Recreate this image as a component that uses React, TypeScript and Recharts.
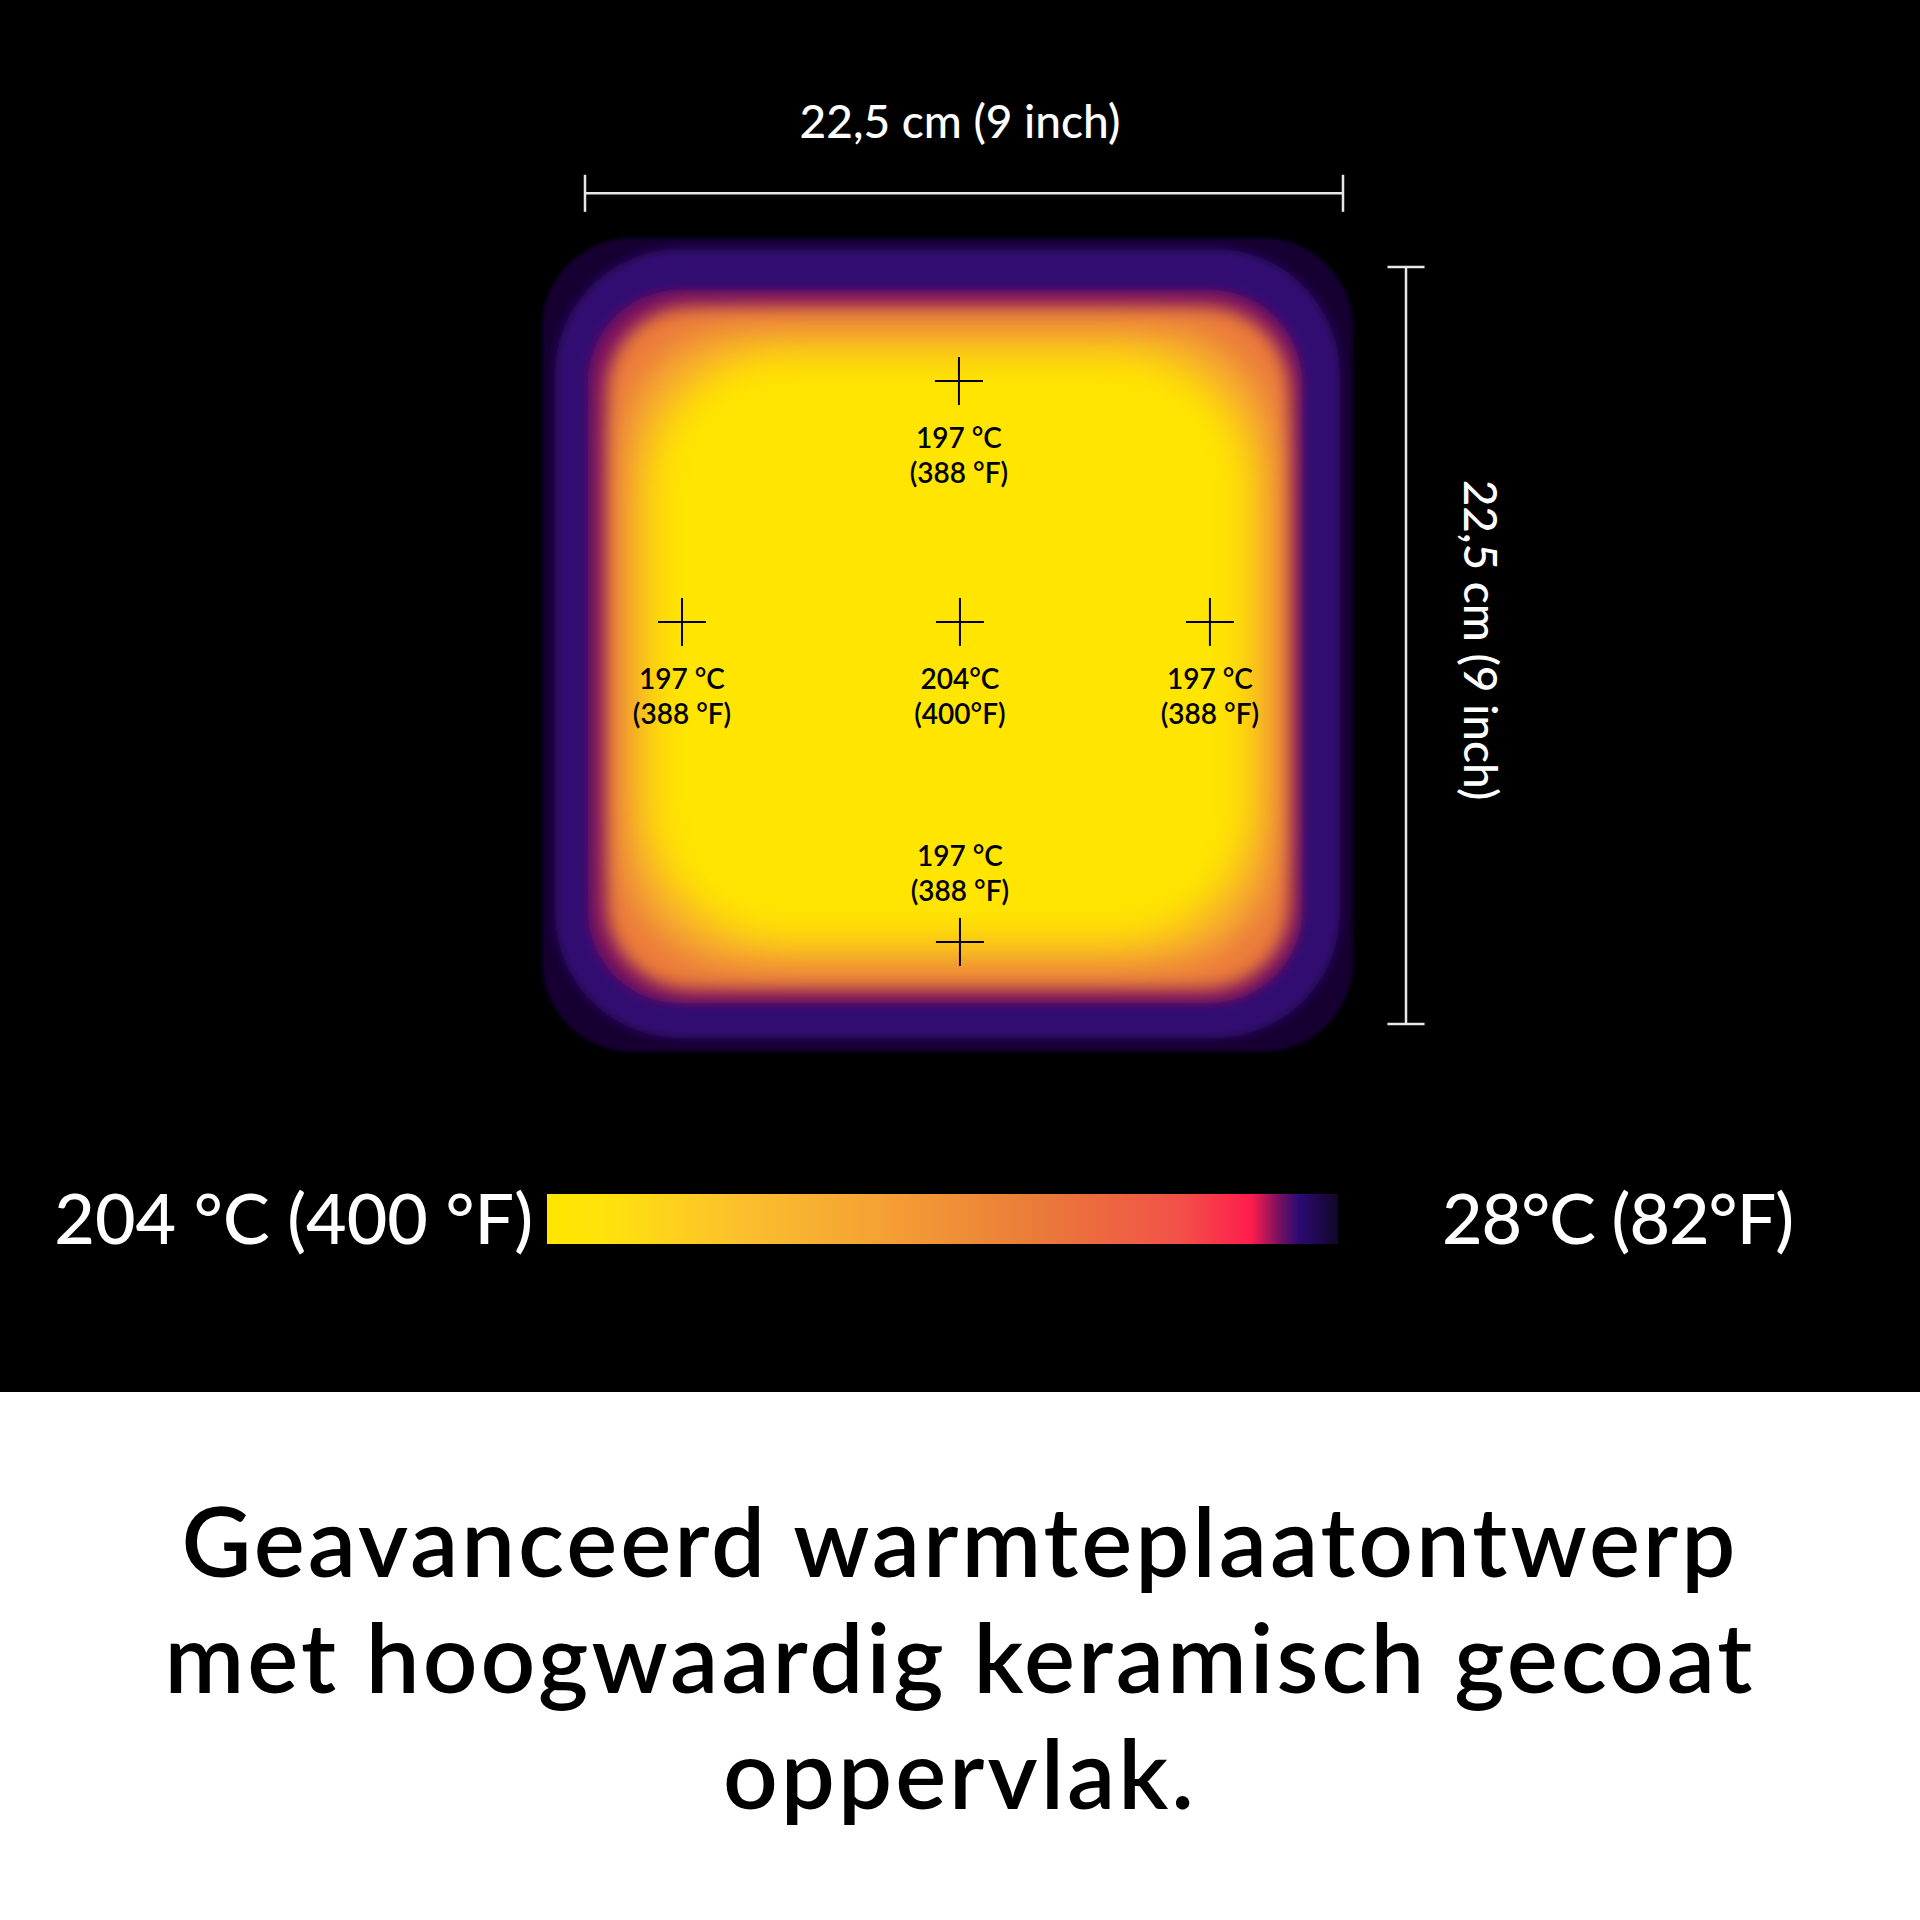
import React from "react";
import {
  ReferenceArea,
  ReferenceLine,
  Scatter,
  ScatterChart,
  XAxis,
  YAxis,
} from "recharts";

document.body.style.margin = "0";

// plate size, both sides
const plateSizeCm = 22.5;
const plateSizeText = "22,5 cm (9 inch)";

// probe points, cm from the bottom-left corner of the plate
const probeX = [11.1, 2.88, 11.13, 18.55, 11.13];
const probeY = [19.11, 11.95, 11.95, 11.95, 2.44];
const probeC = [197, 197, 204, 197, 197];
const probeF = [388, 388, 400, 388, 388];
const probeTextC = ["197 °C", "197 °C", "204°C", "197 °C", "197 °C"];
const probeTextF = ["(388 °F)", "(388 °F)", "(400°F)", "(388 °F)", "(388 °F)"];

// isotherm outlines (°C, bounds in cm)
const isoTemps = [29, 37, 41, 93, 134, 200];
const isoLeft = [-1.28, -0.89, 0.09, 0.62, 1.19, 1.78];
const isoRight = [22.8, 22.41, 21.28, 20.93, 20.39, 19.89];
const isoBottom = [-0.83, -0.42, 0.62, 1.01, 1.75, 2.35];
const isoTop = [23.37, 23.04, 21.82, 21.34, 20.63, 20.04];

// legend colour scale, hot -> cold
const scaleHotC = 204;
const scaleHotF = 400;
const scaleColdC = 28;
const scaleColdF = 82;
const scaleStops = [0, 0.07, 0.25, 0.42, 0.62, 0.8, 0.89, 0.925, 0.95, 1];
const scaleColors = [
  "#FFE600",
  "#FFE30C",
  "#FBBF2E",
  "#F5A134",
  "#E97B39",
  "#F25148",
  "#FF1C4B",
  "#7A1060",
  "#2C0A72",
  "#120628",
];

const caption = [
  "Geavanceerd warmteplaatontwerp",
  "met hoogwaardig keramisch gecoat",
  "oppervlak.",
];

const probes = probeX.map((x, i) => ({
  x,
  y: probeY[i],
  c: probeC[i],
  f: probeF[i],
  textC: probeTextC[i],
  textF: probeTextF[i],
}));

const FONT = "Lato, 'Open Sans', sans-serif";

const hex = (c: string) => [1, 3, 5].map((i) => parseInt(c.slice(i, i + 2), 16));

function tempColor(t: number) {
  const f = Math.min(1, Math.max(0, (scaleHotC - t) / (scaleHotC - scaleColdC)));
  let i = 0;
  while (i < scaleStops.length - 2 && f > scaleStops[i + 1]) i++;
  const k = (f - scaleStops[i]) / (scaleStops[i + 1] - scaleStops[i]);
  const a = hex(scaleColors[i]);
  const b = hex(scaleColors[i + 1]);
  const m = a.map((v, j) => Math.round(v + (b[j] - v) * k));
  return `rgb(${m[0]},${m[1]},${m[2]})`;
}

// softening per layer, outer -> inner
const layerBlur = [2, 5, 5, 9, 16, 20];
const layerRadius = [90, 125, 92, 86, 110, 140];

const layerShape = (i: number) => (props: any) => {
  const { x, y, width, height } = props;
  const id = `iso-blur-${i}`;
  return (
    <g>
      <defs>
        <filter id={id} x="-20%" y="-20%" width="140%" height="140%">
          <feGaussianBlur stdDeviation={layerBlur[i]} />
        </filter>
      </defs>
      <rect
        x={x}
        y={y}
        width={width}
        height={height}
        rx={layerRadius[i]}
        ry={layerRadius[i]}
        fill={tempColor(isoTemps[i])}
        filter={`url(#${id})`}
      />
    </g>
  );
};

const Probe = (props: any) => {
  const { cx, cy, payload } = props;
  const above = payload.y < plateSizeCm / 4;
  const y1 = above ? cy - 76 : cy + 67;
  const y2 = above ? cy - 41 : cy + 102;
  return (
    <g>
      <line x1={cx - 24} x2={cx + 24} y1={cy} y2={cy} stroke="#000" strokeWidth={2} />
      <line x1={cx} x2={cx} y1={cy - 24} y2={cy + 24} stroke="#000" strokeWidth={2} />
      <text x={cx} y={y1} textAnchor="middle" fontFamily={FONT} fontSize={28} fontWeight={600} fill="#000">
        {payload.textC}
      </text>
      <text x={cx} y={y2} textAnchor="middle" fontFamily={FONT} fontSize={28} fontWeight={600} fill="#000">
        {payload.textF}
      </text>
    </g>
  );
};

const dimTop = 24.69;
const dimRight = 24.37;
const tick = 0.55;
const dimStroke = { stroke: "#e8e8e8", strokeWidth: 2.5 };

export default function App() {
  return (
    <div
      style={{
        position: "relative",
        width: 1920,
        height: 1920,
        background: "linear-gradient(#000 0, #000 1392px, #fff 1392px, #fff 100%)",
        overflow: "hidden",
      }}
    >
      <div style={{ position: "absolute", left: 0, top: 0 }}>
        <ScatterChart
          width={1920}
          height={1920}
          margin={{ top: 267, right: 577, bottom: 896, left: 585 }}
        >
          <XAxis type="number" dataKey="x" domain={[0, plateSizeCm]} allowDataOverflow hide />
          <YAxis type="number" dataKey="y" domain={[0, plateSizeCm]} allowDataOverflow hide />
          {isoTemps.map((t, i) => (
            <ReferenceArea
              key={t}
              x1={isoLeft[i]}
              x2={isoRight[i]}
              y1={isoBottom[i]}
              y2={isoTop[i]}
              ifOverflow="visible"
              shape={layerShape(i)}
            />
          ))}
          <ReferenceLine
            segment={[{ x: 0, y: dimTop }, { x: plateSizeCm, y: dimTop }]}
            ifOverflow="visible"
            {...dimStroke}
          />
          <ReferenceLine
            segment={[{ x: 0, y: dimTop - tick }, { x: 0, y: dimTop + tick }]}
            ifOverflow="visible"
            {...dimStroke}
          />
          <ReferenceLine
            segment={[{ x: plateSizeCm, y: dimTop - tick }, { x: plateSizeCm, y: dimTop + tick }]}
            ifOverflow="visible"
            {...dimStroke}
          />
          <ReferenceLine
            segment={[{ x: dimRight, y: 0 }, { x: dimRight, y: plateSizeCm }]}
            ifOverflow="visible"
            {...dimStroke}
          />
          <ReferenceLine
            segment={[{ x: dimRight - tick, y: 0 }, { x: dimRight + tick, y: 0 }]}
            ifOverflow="visible"
            {...dimStroke}
          />
          <ReferenceLine
            segment={[{ x: dimRight - tick, y: plateSizeCm }, { x: dimRight + tick, y: plateSizeCm }]}
            ifOverflow="visible"
            {...dimStroke}
          />
          <Scatter data={probes} shape={Probe} isAnimationActive={false} />
        </ScatterChart>
      </div>
      <svg
        width={1920}
        height={1920}
        style={{ position: "absolute", left: 0, top: 0, pointerEvents: "none" }}
        fontFamily={FONT}
      >
        <defs>
          <linearGradient id="scale" x1="0" x2="1" y1="0" y2="0">
            {scaleStops.map((s, i) => (
              <stop key={s} offset={s} stopColor={scaleColors[i]} />
            ))}
          </linearGradient>
        </defs>
        <text x={960} y={138} textAnchor="middle" fontSize={46} fontWeight={500} fill="#fff">
          {plateSizeText}
        </text>
        <text
          transform="translate(1464,640) rotate(90)"
          textAnchor="middle"
          fontSize={46}
          fontWeight={500}
          fill="#fff"
        >
          {plateSizeText}
        </text>
        <rect x={547} y={1194} width={791} height={50} fill="url(#scale)" />
        <text x={533} y={1244} textAnchor="end" fontSize={70} fontWeight={500} fill="#fff">
          {`${scaleHotC} °C (${scaleHotF} °F)`}
        </text>
        <text
          x={1442}
          y={1244}
          textAnchor="start"
          fontSize={70}
          fontWeight={500}
          letterSpacing={-1}
          fill="#fff"
        >
          {`${scaleColdC}°C (${scaleColdF}°F)`}
        </text>
        {caption.map((line, i) => (
          <text
            key={line}
            x={960}
            y={1577 + i * 116}
            textAnchor="middle"
            fontSize={96}
            fontWeight={600}
            letterSpacing={3}
            fill="#000"
          >
            {line}
          </text>
        ))}
      </svg>
    </div>
  );
}
